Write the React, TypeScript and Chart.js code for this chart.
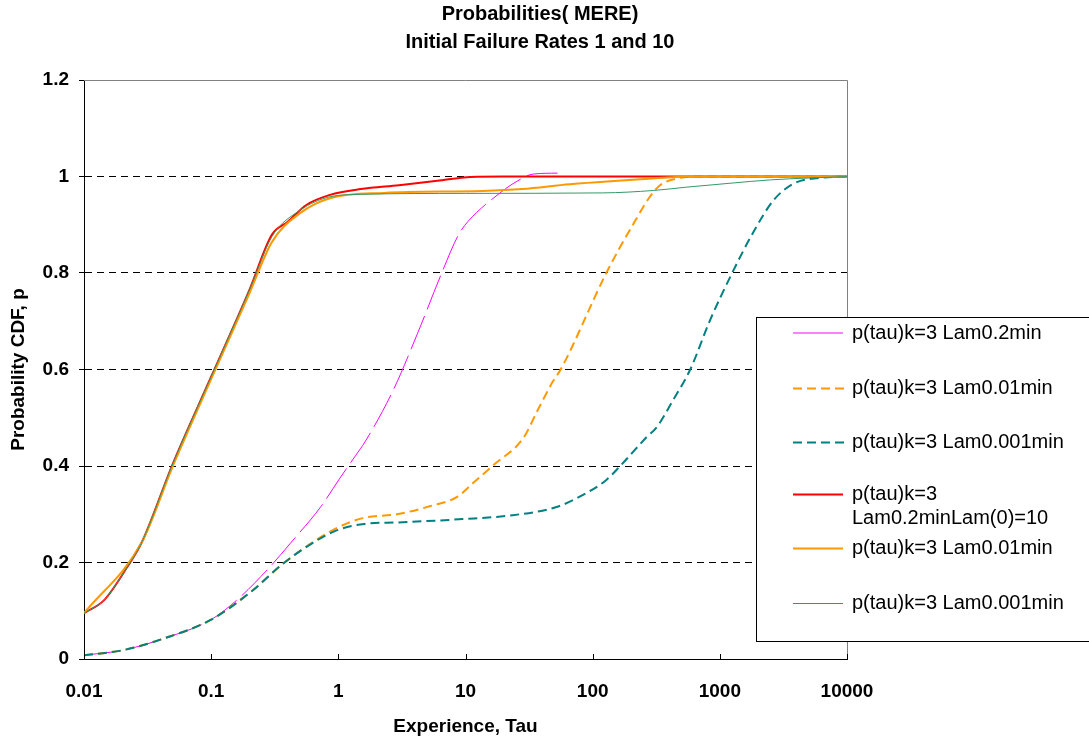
import React, { useEffect, useRef } from "react";
import { Chart, registerables } from "chart.js";

Chart.register(...registerables);

const FONT = "'Liberation Sans', Arial, sans-serif";

const titleLines = ["Probabilities( MERE)", "Initial Failure Rates 1 and 10"];
const xAxisTitle = "Experience, Tau";
const yAxisTitle = "Probability CDF, p";
const xTickValues = [0.01, 0.1, 1, 10, 100, 1000, 10000];
const xTickLabels = ["0.01", "0.1", "1", "10", "100", "1000", "10000"];
const yTickValues = [0, 0.2, 0.4, 0.6, 0.8, 1, 1.2];
const yTickLabels = ["0", "0.2", "0.4", "0.6", "0.8", "1", "1.2"];

const seriesNames = [
  "p(tau)k=3 Lam0.2min",
  "p(tau)k=3 Lam0.01min",
  "p(tau)k=3 Lam0.001min",
  "p(tau)k=3 Lam0.2minLam(0)=10",
  "p(tau)k=3 Lam0.01min",
  "p(tau)k=3 Lam0.001min",
];

// Lam0.2min (long-dashed magenta)
const tauPink = [0.01, 0.02, 0.043, 0.099, 0.159, 0.29, 0.42, 0.73, 1.03, 1.37, 1.62, 2.7, 4.2, 6.5, 8.8, 10.4, 18.7, 25, 34, 53];
const pPink = [0.008, 0.018, 0.043, 0.081, 0.122, 0.191, 0.24, 0.316, 0.375, 0.422, 0.45, 0.557, 0.675, 0.8, 0.879, 0.906, 0.966, 0.989, 1.005, 1.007];

// Lam0.01min (dashed orange)
const tauOrangeDash = [0.01, 0.02, 0.043, 0.099, 0.205, 0.373, 0.68, 0.98, 1.56, 2.9, 5.3, 8.6, 11.4, 16.6, 28.5, 37, 48.6, 56, 128, 196, 320, 460, 700, 10000];
const pOrangeDash = [0.008, 0.018, 0.043, 0.081, 0.139, 0.199, 0.248, 0.272, 0.292, 0.3, 0.317, 0.336, 0.364, 0.402, 0.458, 0.516, 0.575, 0.6, 0.8, 0.889, 0.976, 0.996, 1.0, 1.0];

// Lam0.001min (dashed teal)
const tauTealDash = [0.01, 0.02, 0.043, 0.099, 0.205, 0.373, 0.68, 0.98, 1.6, 2.9, 9.5, 23.5, 52, 84, 128, 162, 266, 320, 430, 585, 840, 1250, 1820, 2650, 3850, 6050, 10000];
const pTealDash = [0.008, 0.018, 0.043, 0.081, 0.139, 0.199, 0.246, 0.267, 0.28, 0.283, 0.29, 0.298, 0.315, 0.34, 0.371, 0.398, 0.46, 0.481, 0.537, 0.6, 0.703, 0.8, 0.883, 0.951, 0.986, 0.997, 1.0];

// Lam0.2min Lam(0)=10 (solid red)
const tauRed = [0.01, 0.0144, 0.0218, 0.0286, 0.05, 0.1, 0.2, 0.3, 0.4, 0.56, 0.86, 1.5, 3, 6, 11, 20, 10000];
const pRed = [0.095, 0.122, 0.19, 0.243, 0.405, 0.585, 0.765, 0.879, 0.906, 0.941, 0.962, 0.974, 0.982, 0.991, 0.999, 1.0, 1.0];

// Lam0.01min (solid orange)
const tauOrange = [0.01, 0.0286, 0.05, 0.1, 0.2, 0.3, 0.5, 0.86, 2.3, 13.6, 28, 66, 300, 620, 10000];
const pOrange = [0.095, 0.243, 0.4, 0.58, 0.758, 0.864, 0.924, 0.955, 0.966, 0.97, 0.974, 0.984, 0.996, 1.0, 1.0];

// Lam0.001min (thin green)
const tauGreen = [0.01, 0.0144, 0.0218, 0.0286, 0.05, 0.1, 0.2, 0.3, 0.5, 0.86, 1.5, 10, 120, 300, 550, 1200, 2500, 10000];
const pGreen = [0.095, 0.122, 0.19, 0.243, 0.405, 0.585, 0.765, 0.875, 0.93, 0.958, 0.963, 0.965, 0.966, 0.971, 0.978, 0.986, 0.993, 1.0];

const colors = ["#FF00FF", "#FF9900", "#008080", "#FF0000", "#FF9900", "#339966"];
const widths = [1, 2, 2, 2, 2, 1];
const dashes: number[][] = [[36, 7], [9, 5], [9, 5], [], [], []];

const seriesTau = [tauPink, tauOrangeDash, tauTealDash, tauRed, tauOrange, tauGreen];
const seriesP = [pPink, pOrangeDash, pTealDash, pRed, pOrange, pGreen];

const LEG = { left: 756.5, top: 317.5, right: 1100, bottom: 641.5, lineX1: 793, lineX2: 843, textX: 852, ys: [333, 388, 442, 494, 548, 603], lineH: 24, maxW: 232 };

const framePlugin = {
  id: "frameAndExtras",
  afterDatasetsDraw(chart: any) {
    const { ctx, chartArea: a, scales } = chart;
    ctx.save();
    ctx.strokeStyle = "#808080";
    ctx.lineWidth = 1;
    ctx.beginPath();
    ctx.moveTo(a.left, a.top + 0.5);
    ctx.lineTo(a.right + 0.5, a.top + 0.5);
    ctx.lineTo(a.right + 0.5, a.bottom);
    ctx.stroke();
    ctx.strokeStyle = "#000";
    ctx.beginPath();
    xTickValues.forEach((v) => {
      const x = Math.round(scales.x.getPixelForValue(v)) + 0.5;
      ctx.moveTo(x, a.bottom);
      ctx.lineTo(x, a.bottom - 5);
    });
    ctx.stroke();
    ctx.restore();
  },
  afterDraw(chart: any) {
    const { ctx } = chart;
    ctx.save();
    ctx.fillStyle = "#000";
    ctx.font = `bold 20px ${FONT}`;
    ctx.textAlign = "center";
    ctx.textBaseline = "middle";
    titleLines.forEach((t, i) => ctx.fillText(t, 540, 14 + i * 28));
    ctx.fillStyle = "#fff";
    ctx.fillRect(LEG.left, LEG.top, LEG.right - LEG.left, LEG.bottom - LEG.top);
    ctx.strokeStyle = "#000";
    ctx.lineWidth = 1;
    ctx.strokeRect(LEG.left, LEG.top, LEG.right - LEG.left, LEG.bottom - LEG.top);
    ctx.font = `20px ${FONT}`;
    ctx.textAlign = "left";
    chart.data.datasets.forEach((ds: any, i: number) => {
      const y = LEG.ys[i];
      ctx.strokeStyle = ds.borderColor;
      ctx.lineWidth = ds.borderWidth;
      const dash = ds.borderDash && ds.borderDash.length && ds.borderDash[0] < 20 ? ds.borderDash : [];
      ctx.setLineDash(dash);
      ctx.beginPath();
      const yy = ds.borderWidth === 1 && i === 0 ? y : y + 0.5;
      ctx.moveTo(LEG.lineX1, yy);
      ctx.lineTo(dash.length ? LEG.lineX2 + 5 : LEG.lineX2, yy);
      ctx.stroke();
      ctx.setLineDash([]);
      const words = String(ds.label).split(" ");
      const lines: string[] = [];
      let cur = "";
      words.forEach((w) => {
        const test = cur ? cur + " " + w : w;
        if (ctx.measureText(test).width > LEG.maxW && cur) {
          lines.push(cur);
          cur = w;
        } else cur = test;
      });
      lines.push(cur);
      ctx.fillStyle = "#000";
      lines.forEach((l, j) => ctx.fillText(l, LEG.textX, y + j * LEG.lineH));
    });
    ctx.restore();
  },
};

export default function App() {
  const ref = useRef<HTMLCanvasElement | null>(null);
  useEffect(() => {
    document.body.style.margin = "0";
    const datasets = seriesNames.map((name, i) => ({
      label: name,
      data: seriesTau[i].map((t, k) => ({ x: t, y: seriesP[i][k] })),
      borderColor: colors[i],
      backgroundColor: colors[i],
      borderWidth: widths[i],
      borderDash: dashes[i],
      pointRadius: 0,
      fill: false,
      cubicInterpolationMode: "monotone" as const,
      order: 5 - i,
    }));
    const chart = new Chart(ref.current as HTMLCanvasElement, {
      type: "line",
      data: { datasets },
      plugins: [framePlugin],
      options: {
        animation: false,
        responsive: true,
        maintainAspectRatio: false,
        layout: { padding: { left: 0, top: 80, right: 242, bottom: 0 } },
        plugins: { legend: { display: false }, tooltip: { enabled: false }, title: { display: false } },
        scales: {
          x: {
            type: "logarithmic",
            min: 0.01,
            max: 10000,
            afterBuildTicks: (scale: any) => {
              scale.ticks = xTickValues.map((v) => ({ value: v }));
            },
            afterFit: (scale: any) => {
              scale.height = 81;
            },
            ticks: {
              autoSkip: false,
              maxRotation: 0,
              padding: 21,
              color: "#000",
              font: { family: FONT, size: 19, weight: "bold" },
              callback: (v: any) => {
                const idx = xTickValues.findIndex((t) => Math.abs(Math.log10(t) - Math.log10(Number(v))) < 1e-6);
                return idx >= 0 ? xTickLabels[idx] : "";
              },
            },
            grid: { display: true, drawOnChartArea: false, drawTicks: false },
            border: { display: true, color: "#000", width: 1 },
            title: {
              display: true,
              text: xAxisTitle,
              color: "#000",
              font: { family: FONT, size: 19, weight: "bold" },
              padding: { top: 0, bottom: 2 },
            },
          },
          y: {
            min: 0,
            max: 1.2,
            afterBuildTicks: (scale: any) => {
              scale.ticks = yTickValues.map((v) => ({ value: v }));
            },
            afterFit: (scale: any) => {
              scale.width = 84;
            },
            ticks: {
              padding: 10,
              color: "#000",
              font: { family: FONT, size: 19, weight: "bold" },
              callback: (v: any) => {
                const idx = yTickValues.findIndex((t) => Math.abs(t - Number(v)) < 1e-9);
                return idx >= 0 ? yTickLabels[idx] : "";
              },
            },
            grid: {
              color: (c: any) => (c.tick && (Math.abs(c.tick.value) < 1e-9 || Math.abs(c.tick.value - 1.2) < 1e-9) ? "rgba(0,0,0,0)" : "#000"),
              lineWidth: 1,
              drawTicks: true,
              tickLength: 5,
              tickColor: "#000",
            },
            border: { display: true, color: "#000", width: 1, dash: [7, 5] },
            title: {
              display: true,
              text: yAxisTitle,
              color: "#000",
              font: { family: FONT, size: 19, weight: "bold" },
              padding: { top: 7, bottom: 0 },
            },
          },
        },
      } as any,
    });
    return () => chart.destroy();
  }, []);
  return (
    <div style={{ position: "absolute", left: 0, top: 0, width: 1089, height: 740 }}>
      <canvas ref={ref} />
    </div>
  );
}
